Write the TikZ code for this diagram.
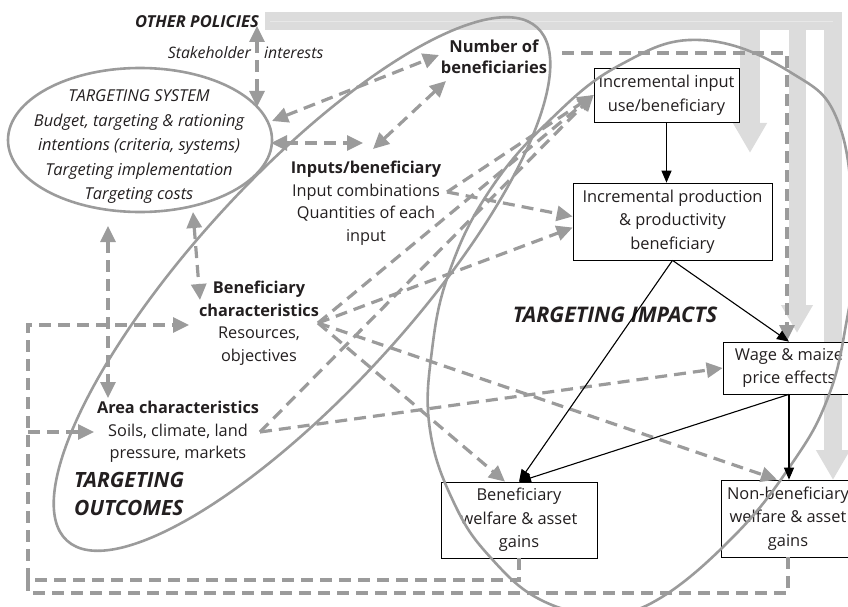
\documentclass[tikz,border=0pt]{standalone}
\usepackage{fontspec}
\setmainfont{Open Sans}
\usetikzlibrary{arrows.meta}
\definecolor{dg}{HTML}{9B9B9B}
\definecolor{lg}{HTML}{DCDCDC}
\definecolor{lgi}{HTML}{E8E8E8}
\definecolor{tx}{HTML}{231F20}
\begin{document}
\begin{tikzpicture}[x=1pt,y=-1pt,
 ga/.style={draw=dg, line width=3.2pt, dash pattern=on 12pt off 7pt, -{Triangle[length=16pt,width=15pt]}},
 gaa/.style={draw=dg, line width=3.2pt, dash pattern=on 12pt off 7pt, {Triangle[length=16pt,width=15pt]}-{Triangle[length=16pt,width=15pt]}},
 gl/.style={draw=dg, line width=3.2pt, dash pattern=on 12pt off 7pt},
 ell/.style={draw=dg, line width=2.6pt},
 box/.style={draw=black, line width=0.7pt, fill=white, align=center, inner sep=0pt, text=tx, font=\fontsize{16.4}{23.5}\selectfont},
 txt/.style={align=center, inner sep=0pt, text=tx, font=\fontsize{16.3}{22.5}\selectfont},
 blk/.style={draw=black, line width=1.1pt, -{Triangle[length=12pt,width=10pt]}},
 bigarr/.style={draw=lg, line width=#1},
]
\useasboundingbox (0,0) rectangle (848,607);

% light gray policy arrows
\draw[bigarr=18pt, -{Triangle[length=30pt,width=32pt]}] (265,21) -- (833,21) -- (833,480);
\draw[bigarr=20pt, -{Triangle[length=30pt,width=32pt]}] (750,21) -- (750,153);
\draw[bigarr=17pt, -{Triangle[length=28pt,width=30pt]}] (797,21) -- (797,333);
\draw[draw=lgi, line width=0.8pt] (270,21) -- (833,21);

% boxes
\node[box, minimum width=145pt, minimum height=54pt] (A) at (666.5,95) {Incremental input\\use/beneficiary};
\node[box, minimum width=199pt, minimum height=77pt] (B) at (672.5,221.5) {Incremental production\\\& productivity\\beneficiary};
\node[box, minimum width=132pt, minimum height=52pt] (C) at (789,368) {Wage \& maize\\price effects};
\node[box, minimum width=156pt, minimum height=76pt] (D) at (519,520) {Beneficiary\\welfare \& asset\\gains};
\node[box, minimum width=134pt, minimum height=77pt] (E) at (788,518.5) {Non-beneficiary\\welfare \& asset\\gains};

% text blocks
\node[txt, anchor=east, font=\fontsize{16.5}{20}\selectfont\bfseries\itshape] (op) at (259,22) {OTHER POLICIES};
\node[txt, anchor=east, font=\fontsize{15.8}{20}\selectfont\itshape] (sh1) at (251,53) {Stakeholder};
\node[txt, anchor=west, font=\fontsize{15.8}{20}\selectfont\itshape] (sh2) at (264,53) {interests};
\node[txt, font=\fontsize{16.4}{24.5}\selectfont\itshape] (tstx) at (139,147) {TARGETING SYSTEM\\Budget, targeting \& rationing\\intentions (criteria, systems)\\Targeting implementation\\Targeting costs};
\node[txt, font=\fontsize{16.5}{21.5}\selectfont\bfseries] (num) at (494,57) {Number of\\beneficiaries};
\node[txt] (inp) at (366,203) {\textbf{Inputs/beneficiary}\\Input combinations\\Quantities of each\\input};
\node[txt] (bc) at (259,323) {\textbf{Beneficiary}\\\textbf{characteristics}\\Resources,\\objectives};
\node[txt] (ar) at (178,432) {\textbf{Area characteristics}\\Soils, climate, land\\pressure, markets};
\node[txt, anchor=west, align=left, font=\fontsize{21}{28}\selectfont\bfseries\itshape] (tout) at (74,494) {TARGETING\\OUTCOMES};
\node[txt, font=\fontsize{21.5}{24}\selectfont\bfseries\itshape] (timp) at (615,315) {TARGETING IMPACTS};

% ellipses
\draw[ell] (140,140) ellipse [x radius=132pt, y radius=72pt];
\draw[ell, rotate around={47.5:(302,284)}] (302,284) ellipse [x radius=348pt, y radius=108pt];
\draw[ell] plot[smooth cycle, tension=0.7] coordinates {(700,40) (790,72) (840,127) (853,250) (845,330) (827,400) (793,462) (735,535) (657,600) (600,613) (541,600) (491,558) (455,505) (430,430) (432,350) (450,270) (490,190) (550,120) (620,65)};

% attachment points
\coordinate (opB) at (257,26);
\coordinate (tsT) at (257,107);
\coordinate (tsNE) at (272,121);
\coordinate (tsE) at (271,143);
\coordinate (tsS) at (193,212);
\coordinate (tsSW) at (108,226);
\coordinate (numW) at (439,55);
\coordinate (numS) at (446,81);
\coordinate (numE) at (562,53);
\coordinate (inpW) at (363,143);
\coordinate (inpN) at (373,149);
\coordinate (inpR) at (447,192);
\coordinate (bcN) at (200,300);
\coordinate (bcW) at (189,325);
\coordinate (bcR) at (318,323);
\coordinate (arN) at (108,398);
\coordinate (arW) at (94,432);
\coordinate (arR) at (260,432);
\coordinate (topR) at (787,53);
\coordinate (cTop) at (787,341);
\coordinate (dLow) at (519,580);
\coordinate (eLow) at (788,593);
\coordinate (lA) at (28,580);
\coordinate (lB) at (28,593);
\coordinate (lC) at (28,325);
\coordinate (lD) at (28,432);

% dashed influence arrows
\draw[gaa] (opB) -- (tsT);
\draw[gaa] (tsNE) -- (numW);
\draw[gaa] (tsE) -- (inpW);
\draw[gaa] (numS) -- (inpN);
\draw[gaa] (tsS) -- (bcN);
\draw[gaa] (tsSW) -- (arN);
\draw[ga] (inpR) -- (A.west);
\draw[ga] (inpR) -- ([yshift=5pt]B.west);
\draw[ga] (bcR) -- (A.west);
\draw[ga] (bcR) -- ([yshift=-6pt]B.west);
\draw[ga] (bcR) -- ([xshift=-14pt]D.north);
\draw[ga] (bcR) -- ([xshift=-11pt]E.north);
\draw[ga] (arR) -- (A.west);
\draw[ga] (arR) -- (C.west);
\draw[ga] (numE) -- (topR) -- (cTop);
\draw[ga] (D.south) -- (dLow) -- (lA) -- (lC) -- (bcW);
\draw[gl] (E.south) -- (eLow) -- (lB) -- (lA);
\draw[ga] (lD) -- (arW);

% impact chain
\draw[blk] (A.south) -- (A.south |- B.north);
\draw[blk] (B.south) -- (C.north);
\draw[blk] (B.south) -- (D.north);
\draw[blk] (C.south) -- (D.north);
\draw[blk] (C.south) -- (C.south |- E.north);
\end{tikzpicture}
\end{document}
